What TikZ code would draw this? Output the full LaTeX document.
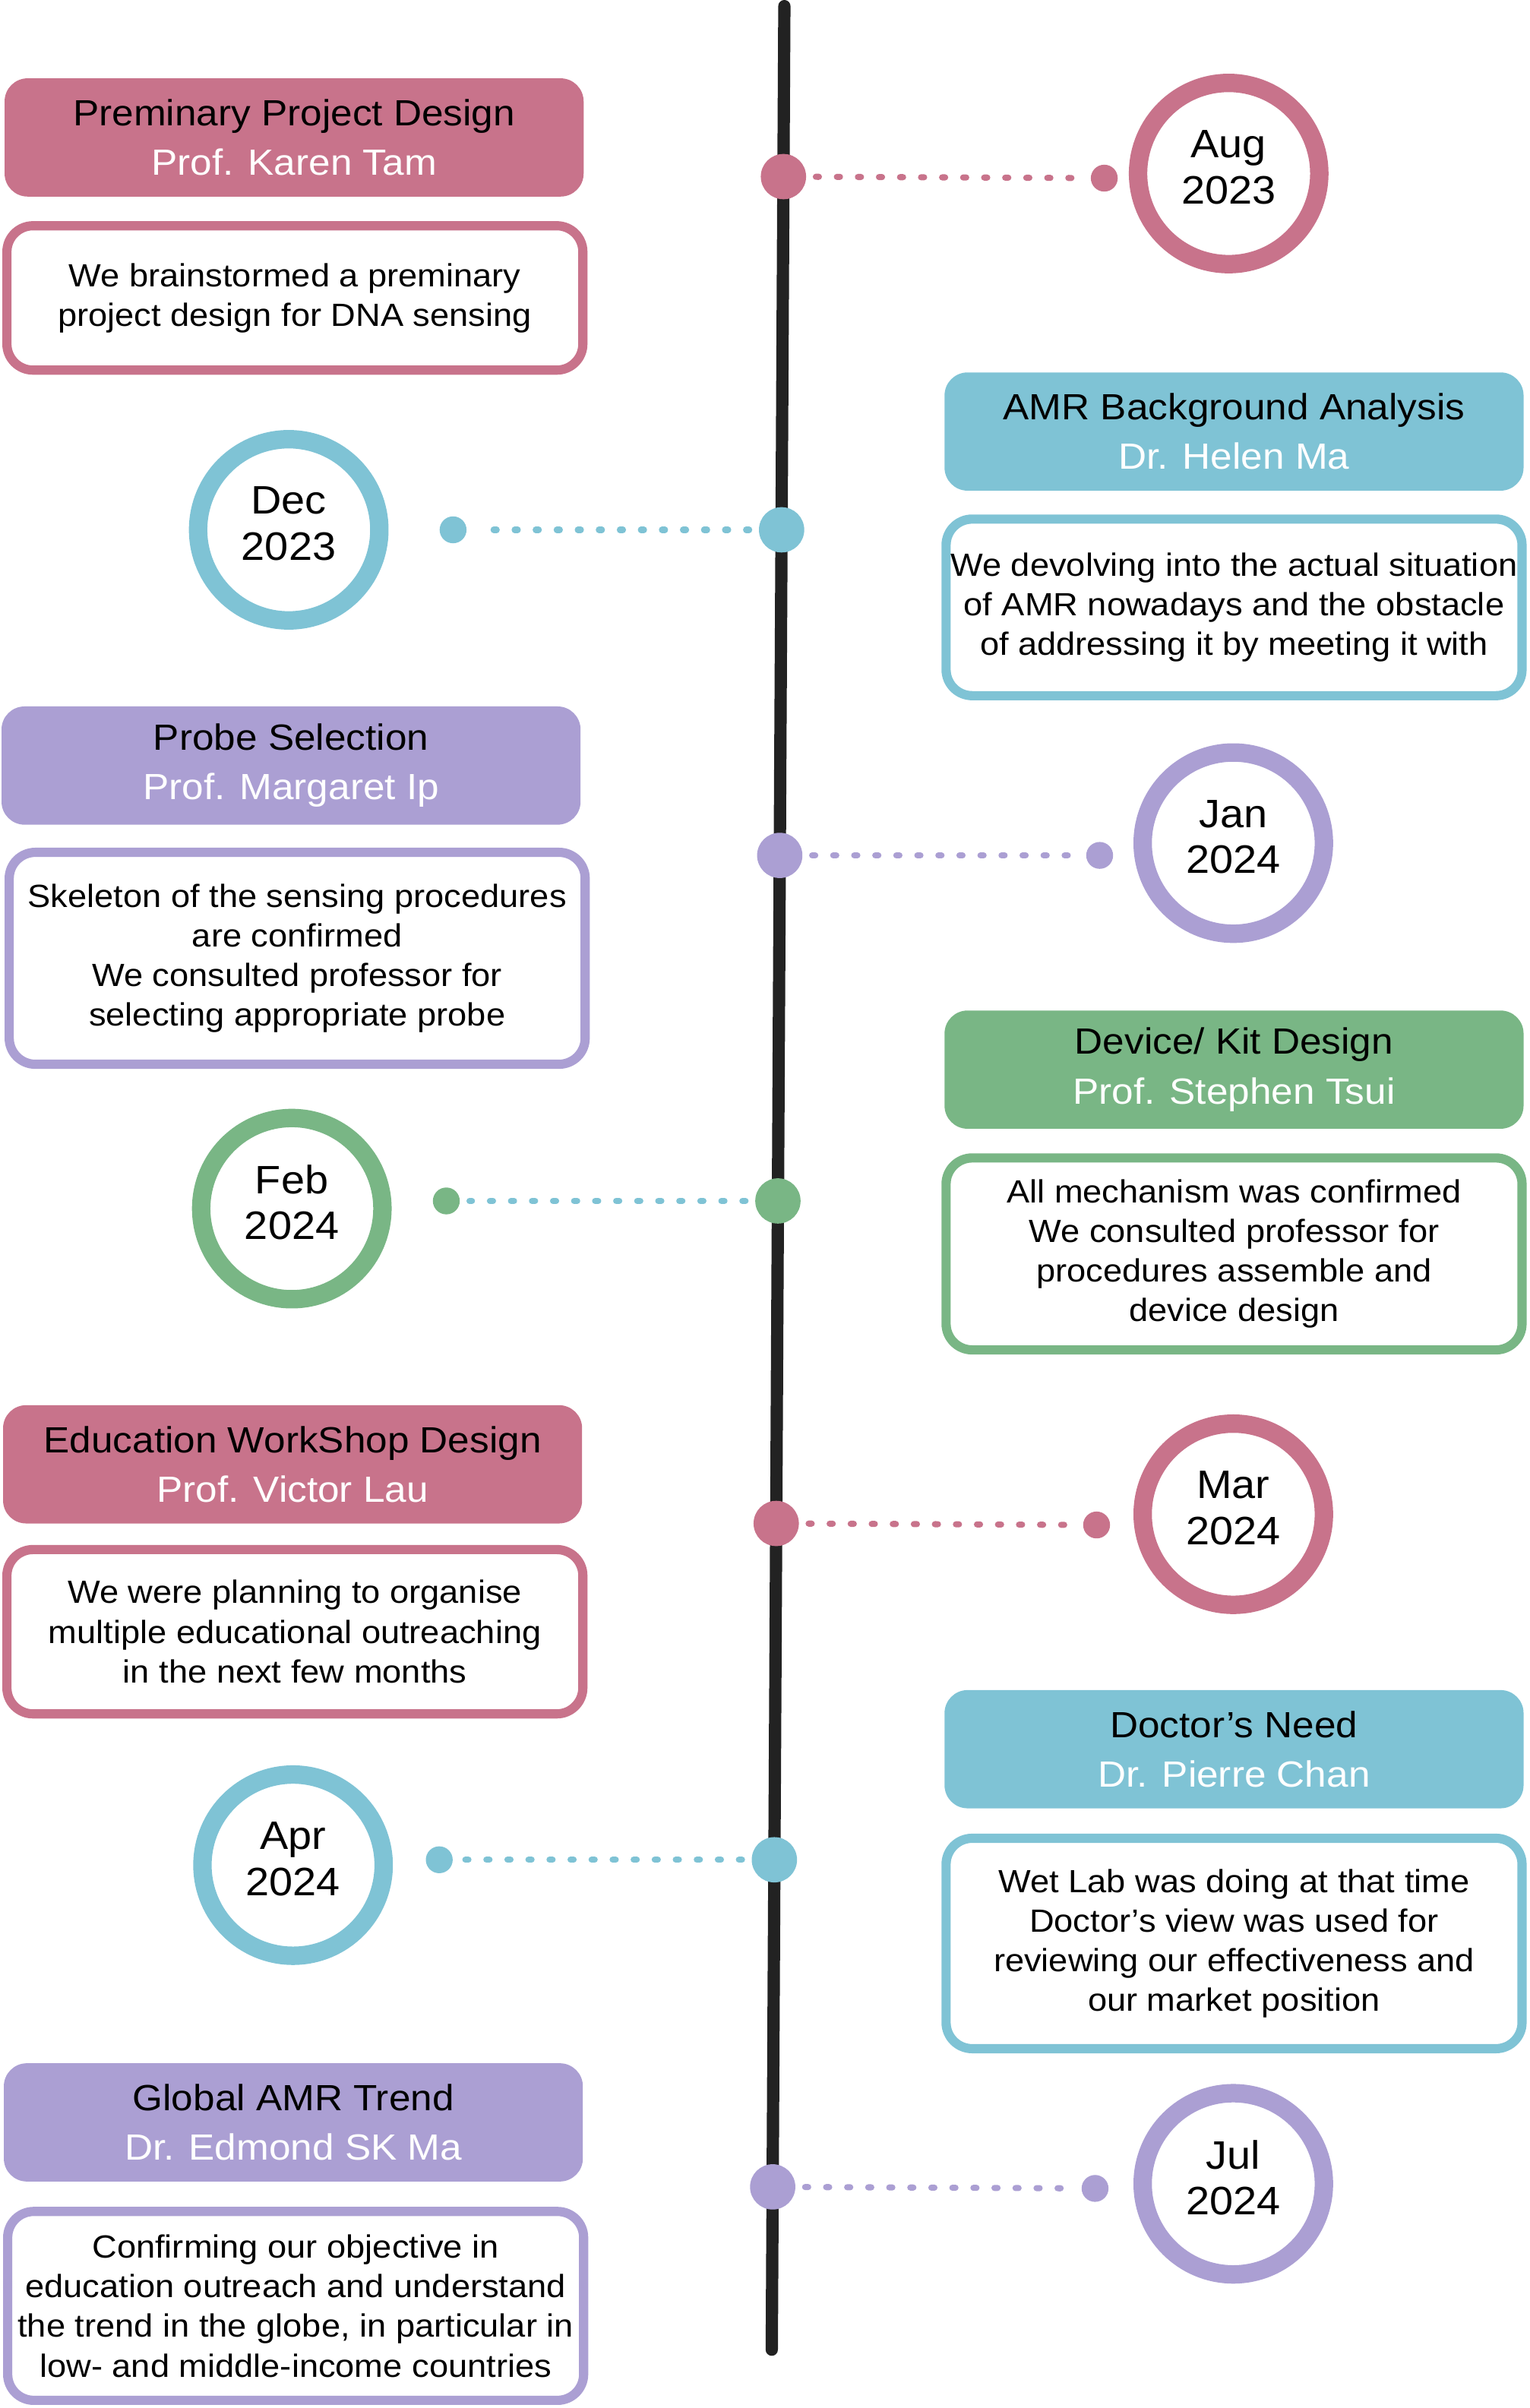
\documentclass[tikz,border=0pt]{standalone}
\usepackage{fontspec}
\setmainfont[FakeStretch=1.07]{Liberation Sans}
\definecolor{roze}{HTML}{C8738B}
\definecolor{blauw}{HTML}{7FC3D5}
\definecolor{paars}{HTML}{AB9FD3}
\definecolor{groen}{HTML}{79B685}
\definecolor{lijn}{HTML}{222222}
\tikzset{
  kop/.style={fill=#1, rounded corners=3mm, minimum width=75.4mm, minimum height=15.4mm,
    inner sep=0pt, align=center, font=\fontsize{13.5}{18.4}\selectfont},
  tekst/.style={draw=#1, fill=white, line width=1.2mm, rounded corners=3.4mm, minimum width=75mm,
    inner sep=0pt, align=center, font=\fontsize{11.9}{14.7}\selectfont},
  datum/.style={circle, draw=#1, line width=2.4mm, minimum size=23.6mm, inner sep=0pt},
  datumtekst/.style={align=center, inner sep=0pt, yshift=0.8mm, font=\fontsize{14.7}{17}\selectfont},
  bol/.style={circle, fill=#1, minimum size=5.9mm, inner sep=0pt},
  bolletje/.style={circle, fill=#1, minimum size=3.5mm, inner sep=0pt},
  stip/.style={draw=#1, line width=0.8mm, line cap=round, dash pattern=on 0.4mm off 2.34mm,
    shorten <=1.2mm, shorten >=1.2mm}
}
\begin{document}
\begin{tikzpicture}[x=0.2mm, y=-0.2mm]
\useasboundingbox (0,0) rectangle (996,1568);
% Tijdlijn
\coordinate (boven) at (510.7,4);
\coordinate (onder) at (502.5,1530);
\draw[lijn, line width=1.6mm, line cap=round] (boven) -- (onder);
% Aug 2023
\node[kop=roze] (kop1) at (191.5,89.5) {Preminary Project Design\\\textcolor{white}{Prof. Karen Tam}};
\node[tekst=roze, minimum height=18.8mm] (tekst1) at (192,194) {We brainstormed a preminary\\project design for DNA sensing};
\node[bol=roze] (p1) at (510.1,115) {};
\node[bolletje=roze] (q1) at (719,116) {};
\node[datum=roze] (d1) at (800,113) {};
\node[datumtekst] (t1) at (d1.center) {Aug\\2023};
\draw[stip=roze] (p1) -- (q1);
% Dec 2023
\node[kop=blauw] (kop2) at (803.5,281) {AMR Background Analysis\\\textcolor{white}{Dr. Helen Ma}};
\node[tekst=blauw, minimum height=23mm] (tekst2) at (803.5,395.5) {We devolving into the actual situation\\of AMR nowadays and the obstacle\\of addressing it by meeting it with};
\node[bol=blauw] (p2) at (508.9,345) {};
\node[bolletje=blauw] (q2) at (295,345) {};
\node[datum=blauw] (d2) at (188,345) {};
\node[datumtekst] (t2) at (d2.center) {Dec\\2023};
\draw[stip=blauw] (p2) -- (q2);
% Jan 2024
\node[kop=paars] (kop3) at (189.5,498.5) {Probe Selection\\\textcolor{white}{Prof. Margaret Ip}};
\node[tekst=paars, minimum height=27.6mm] (tekst3) at (193.5,624) {Skeleton of the sensing procedures\\are confirmed\\We consulted professor for\\selecting appropriate probe};
\node[bol=paars] (p3) at (507.7,557) {};
\node[bolletje=paars] (q3) at (716,557) {};
\node[datum=paars] (d3) at (803,549) {};
\node[datumtekst] (t3) at (d3.center) {Jan\\2024};
\draw[stip=paars] (p3) -- (q3);
% Feb 2024
\node[kop=groen] (kop4) at (803.5,696.5) {Device/ Kit Design\\\textcolor{white}{Prof. Stephen Tsui}};
\node[tekst=groen, minimum height=25mm] (tekst4) at (803.5,816.5) {All mechanism was confirmed\\We consulted professor for\\procedures assemble and\\device design};
\node[bol=groen] (p4) at (506.5,782) {};
\node[bolletje=groen] (q4) at (290.6,782) {};
\node[datum=groen] (d4) at (190,787) {};
\node[datumtekst] (t4) at (d4.center) {Feb\\2024};
\draw[stip=blauw] (p4) -- (q4);
% Mar 2024
\node[kop=roze] (kop5) at (190.5,953.5) {Education WorkShop Design\\\textcolor{white}{Prof. Victor Lau}};
\node[tekst=roze, minimum height=21.4mm] (tekst5) at (192,1062.5) {We were planning to organise\\multiple educational outreaching\\in the next few months};
\node[bol=roze] (p5) at (505.4,992) {};
\node[bolletje=roze] (q5) at (714,993) {};
\node[datum=roze] (d5) at (803,986) {};
\node[datumtekst] (t5) at (d5.center) {Mar\\2024};
\draw[stip=roze] (p5) -- (q5);
% Apr 2024
\node[kop=blauw] (kop6) at (803.5,1139) {Doctor’s Need\\\textcolor{white}{Dr. Pierre Chan}};
\node[tekst=blauw, minimum height=27.4mm] (tekst6) at (803.5,1265.5) {Wet Lab was doing at that time\\Doctor’s view was used for\\reviewing our effectiveness and\\our market position};
\node[bol=blauw] (p6) at (504.2,1211) {};
\node[bolletje=blauw] (q6) at (286,1211) {};
\node[datum=blauw] (d6) at (190.8,1214.5) {};
\node[datumtekst] (t6) at (d6.center) {Apr\\2024};
\draw[stip=blauw] (p6) -- (q6);
% Jul 2024
\node[kop=paars] (kop7) at (191,1382) {Global AMR Trend\\\textcolor{white}{Dr. Edmond SK Ma}};
\node[tekst=paars, minimum height=24.6mm] (tekst7) at (192.5,1501.5) {Confirming our objective in\\education outreach and understand\\the trend in the globe, in particular in\\low- and middle-income countries};
\node[bol=paars] (p7) at (503.1,1424) {};
\node[bolletje=paars] (q7) at (713,1425) {};
\node[datum=paars] (d7) at (803,1422) {};
\node[datumtekst] (t7) at (d7.center) {Jul\\2024};
\draw[stip=paars] (p7) -- (q7);
\end{tikzpicture}
\end{document}
